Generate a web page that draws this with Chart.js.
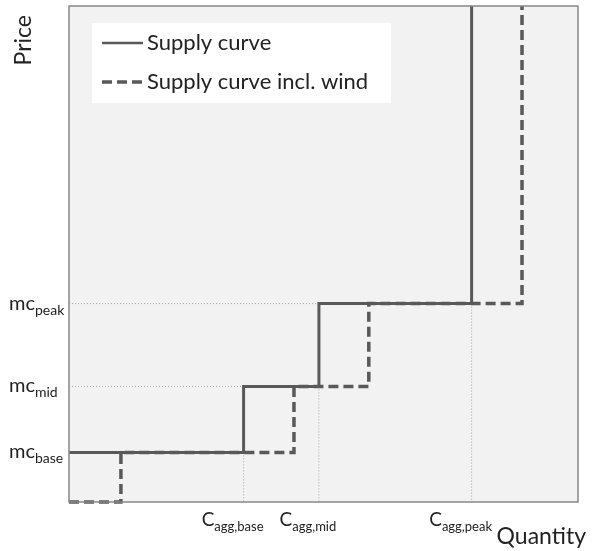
<!DOCTYPE html>
<html>
<head>
<meta charset="utf-8">
<script src="https://cdn.jsdelivr.net/npm/chart.js@4.4.1/dist/chart.umd.min.js"></script>
<style>
  body { margin: 0; background: #ffffff; }
  #wrap { width: 598px; height: 551px; }
</style>
</head>
<body>
<div id="wrap"><canvas id="myChart" width="598" height="551"></canvas></div>
<script>
'use strict';

/** @desc Price levels (marginal cost of base, mid and peak plants) */
const MC = [10, 23.3, 40];
const MC_LABELS = ['base', 'mid', 'peak'];

/** @desc Aggregated capacity where each technology ends */
const C_AGG = [34.3, 49.1, 79.1];
const C_AGG_LABELS = ['agg,base', 'agg,mid', 'agg,peak'];

/** @desc Steps of the supply curve including wind */
const C_WIND = [10.2, 44.2, 58.9, 89.0];

/** @desc Axis ranges */
const Q_MAX = 100;
const P_MAX = 100;

const SERIES_NAMES = ['Supply curve', 'Supply curve incl. wind'];

const LINE_COLOR = '#595959';
const FONT = 'Lato, "Open Sans", sans-serif';

/** @desc Step points (horizontal first, then vertical) */
const supplyPoints = [0, ...C_AGG].map((q, i) => ({x: q, y: [...MC, P_MAX][i]}));
const windPoints = [0, ...C_WIND].map((q, i) => ({x: q, y: [0, ...MC, P_MAX][i]}));

/** @desc Dotted helper lines down to the axes */
const dropPoints = [];
C_AGG.forEach((q, i) => {
  dropPoints.push({x: q, y: MC[i]}, {x: q, y: 0}, {x: q, y: null});
  if (i > 0) {
    dropPoints.push({x: 0, y: MC[i]}, {x: C_AGG[i - 1], y: MC[i]}, {x: 0, y: null});
  }
});

/** @desc Frame and background of the plot area */
const frame = {
  id: 'frame',
  beforeDatasetsDraw(chart) {
    const {ctx, chartArea: a} = chart;
    ctx.save();
    ctx.fillStyle = '#f2f2f2';
    ctx.fillRect(a.left, a.top, a.width, a.height);
    ctx.restore();
  },
  afterDatasetsDraw(chart) {
    const {ctx, chartArea: a} = chart;
    ctx.save();
    ctx.strokeStyle = '#888888';
    ctx.lineWidth = 1.5;
    ctx.strokeRect(a.left, a.top, a.width, a.height);
    ctx.restore();
  }
};

/** @desc Draws a main text followed by a subscript */
function subText(ctx, x, y, main, sub, size, subSize, align) {
  ctx.font = size + 'px ' + FONT;
  const w1 = ctx.measureText(main).width;
  ctx.font = subSize + 'px ' + FONT;
  const w2 = ctx.measureText(sub).width;
  let start = x;
  if (align === 'center') start = x - (w1 + w2) / 2;
  ctx.textAlign = 'left';
  ctx.textBaseline = 'alphabetic';
  ctx.font = size + 'px ' + FONT;
  ctx.fillText(main, start, y);
  ctx.font = subSize + 'px ' + FONT;
  ctx.fillText(sub, start + w1, y + size * 0.25);
}

/** @desc Tick labels with subscripts and axis titles */
const labels = {
  id: 'labels',
  afterDraw(chart) {
    const {ctx, chartArea: a} = chart;
    const xs = chart.scales.x;
    const ys = chart.scales.y;
    ctx.save();
    ctx.fillStyle = '#222222';
    MC.forEach((v, i) => {
      subText(ctx, 9, ys.getPixelForValue(v) + 6, 'mc', MC_LABELS[i], 20, 14, 'left');
    });
    C_AGG.forEach((v, i) => {
      subText(ctx, xs.getPixelForValue(v) - 11, a.bottom + 24, 'C', C_AGG_LABELS[i], 19, 13, 'center');
    });
    ctx.font = '23px ' + FONT;
    ctx.textBaseline = 'alphabetic';
    ctx.textAlign = 'right';
    ctx.fillText('Quantity', 586, a.bottom + 42);
    ctx.translate(31, a.top + 9);
    ctx.rotate(-Math.PI / 2);
    ctx.fillText('Price', 0, 0);
    ctx.restore();
  }
};

/** @desc Legend drawn inside the plot area */
const insideLegend = {
  id: 'insideLegend',
  afterDraw(chart) {
    const {ctx, chartArea: a} = chart;
    const x0 = a.left + 23;
    const y0 = a.top + 17;
    ctx.save();
    ctx.fillStyle = '#ffffff';
    ctx.fillRect(x0, y0, 299, 80);
    SERIES_NAMES.forEach((name, i) => {
      const ds = chart.data.datasets[i];
      const y = y0 + 20 + i * 39;
      ctx.strokeStyle = ds.borderColor;
      ctx.lineWidth = i === 0 ? 2.5 : 3.5;
      ctx.setLineDash(ds.borderDash || []);
      ctx.beginPath();
      ctx.moveTo(x0 + 10, y);
      ctx.lineTo(x0 + 51, y);
      ctx.stroke();
      ctx.setLineDash([]);
      ctx.fillStyle = '#222222';
      ctx.font = '22px ' + FONT;
      ctx.textAlign = 'left';
      ctx.textBaseline = 'middle';
      ctx.fillText(name, x0 + 55, y);
    });
    ctx.restore();
  }
};

const DATA = {
  datasets: [{
    label: SERIES_NAMES[0],
    data: supplyPoints,
    stepped: 'before',
    borderColor: LINE_COLOR,
    borderWidth: 3,
    pointRadius: 0,
    clip: 4
  }, {
    label: SERIES_NAMES[1],
    data: windPoints,
    stepped: 'before',
    borderColor: LINE_COLOR,
    borderWidth: 3.5,
    borderDash: [10, 5],
    pointRadius: 0,
    clip: 4
  }, {
    label: 'guides',
    data: dropPoints,
    borderColor: '#a6a6a6',
    borderWidth: 1,
    borderDash: [1, 2],
    pointRadius: 0,
    spanGaps: false
  }]
};

const SCALES = {
  x: {
    type: 'linear',
    min: 0,
    max: Q_MAX,
    grid: {display: false},
    border: {display: false},
    ticks: {display: false},
    afterFit(scale) { scale.height = 49; }
  },
  y: {
    type: 'linear',
    min: 0,
    max: P_MAX,
    grid: {display: false},
    border: {display: false},
    ticks: {display: false},
    afterFit(scale) { scale.width = 69; }
  }
};

const CONFIG = {
  type: 'line',
  data: DATA,
  options: {
    responsive: false,
    animation: false,
    layout: {padding: {top: 6, right: 20, left: 0, bottom: 0}},
    plugins: {
      legend: {display: false},
      tooltip: {enabled: false}
    },
    scales: SCALES
  },
  plugins: [frame, labels, insideLegend]
};

const CTX = document.getElementById('myChart').getContext('2d');
const myChart = new Chart(CTX, CONFIG);
</script>
</body>
</html>
